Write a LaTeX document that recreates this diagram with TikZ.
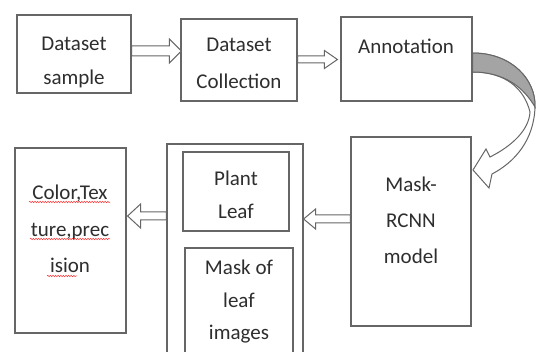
\documentclass[tikz,border=0pt]{standalone}
\usepackage{fontspec}
\setmainfont{Carlito}
\usetikzlibrary{calc,decorations.pathmorphing}
\definecolor{edge}{HTML}{666666}
\definecolor{ink}{HTML}{2E2E2E}
\definecolor{shade}{HTML}{A4A4A4}
\tikzset{
  x=1pt,y=-1pt,
  box/.style={draw=edge,line width=1.2pt,inner sep=0pt,fill=white},
  txt/.style={text=ink,align=center,inner sep=0pt},
  barrow/.style={draw=edge,line width=1pt,fill=white,line join=miter},
  squig/.style={draw=red!80!white,line width=0.5pt,decorate,decoration={snake,amplitude=0.7pt,segment length=2.6pt}}
}
\newcommand\barr[6]{%
  \draw[barrow] ($(#1)+(0,-#3)$) -- ($(#2)+({-(#5)*(#6)},-#3)$) -- ($(#2)+({-(#5)*(#6)},-#4)$) -- (#2)
   -- ($(#2)+({-(#5)*(#6)},#4)$) -- ($(#2)+({-(#5)*(#6)},#3)$) -- ($(#1)+(0,#3)$) -- cycle;}
\begin{document}
\begin{tikzpicture}
\useasboundingbox (0,0) rectangle (536,352);
\clip (0,0) rectangle (536,352);
\fill[white] (0,0) rectangle (536,352);
% boxes
\node[box,minimum width=114pt,minimum height=78pt] (b1) at (74,54) {};
\node[box,minimum width=116pt,minimum height=82pt] (b2) at (239,60) {};
\node[box,minimum width=131pt,minimum height=84pt] (b3) at (406.5,59) {};
\node[box,minimum width=120pt,minimum height=189pt] (b4) at (411,231.5) {};
\node[box,minimum width=136pt,minimum height=226pt] (cont) at (235,257) {};
\node[box,minimum width=106pt,minimum height=79pt] (pl) at (236,191.5) {};
\node[box,minimum width=108pt,minimum height=117pt] (mk) at (239,306.5) {};
\node[box,minimum width=111pt,minimum height=185pt] (b5) at (70.5,240.5) {};
% texts
\node[txt,font=\fontsize{21}{34}\selectfont] (t1) at (74,62) {Dataset\\sample};
\node[txt,font=\fontsize{21}{37}\selectfont] (t2) at (239,63) {Dataset\\Collection};
\node[txt,font=\fontsize{21}{34}\selectfont] (t3) at (406,46.5) {Annotation};
\node[txt,font=\fontsize{21}{36}\selectfont] (t4) at (411,220) {Mask-\\RCNN\\model};
\node[txt,font=\fontsize{21}{33}\selectfont] (t5) at (236,195) {Plant\\Leaf};
\node[txt,font=\fontsize{21}{32.5}\selectfont] (t6) at (239,302) {Mask of\\leaf\\images};
\node[txt,font=\fontsize{21}{36.5}\selectfont] (t7) at (70,229) {Color,Tex\\ture,prec\\ision};
% spell-check underlines
\draw[squig] (29,202) -- (110,202);
\draw[squig] (30,239) -- (110,239);
\draw[squig] (47,276) -- (77,276);
% straight block arrows
\coordinate (a1s) at (b1.east |- 0,51);
\coordinate (a1e) at ($(b2.west |- 0,51)+(1,0)$);
\barr{a1s}{a1e}{5}{12}{1}{12}
\coordinate (a2s) at (b2.east |- 0,59.5);
\coordinate (a2e) at ($(b3.west |- 0,59.5)+(-3,0)$);
\barr{a2s}{a2e}{3.5}{9}{1}{13}
\coordinate (a3s) at (b4.west |- 0,219);
\coordinate (a3e) at (cont.east |- 0,219);
\barr{a3s}{a3e}{4}{10}{-1}{12}
\coordinate (a4s) at (cont.west |- 0,216);
\coordinate (a4e) at ($(b5.east |- 0,216)+(1,0)$);
\barr{a4s}{a4e}{4}{12}{-1}{13}
% curved arrow from Annotation to Mask-RCNN
\coordinate (c1) at (b3.east |- 0,53);
\coordinate (c2) at (b3.east |- 0,72);
\coordinate (ctip) at (473,170);
\draw[barrow]
  (c1) .. controls (512,53) and (536,80) .. (535,107)
  .. controls (534,140) and (515,162) .. (492,174)
  -- (489,188) -- (ctip) -- (486,149) -- (490,157)
  .. controls (512,146) and (529,130) .. (530,112)
  .. controls (524,88) and (505,72) .. (c2) -- cycle;
\draw[barrow,fill=shade]
  (c1) .. controls (512,53) and (536,80) .. (535,107)
  .. controls (524,88) and (505,72) .. (c2) -- cycle;
\end{tikzpicture}
\end{document}
